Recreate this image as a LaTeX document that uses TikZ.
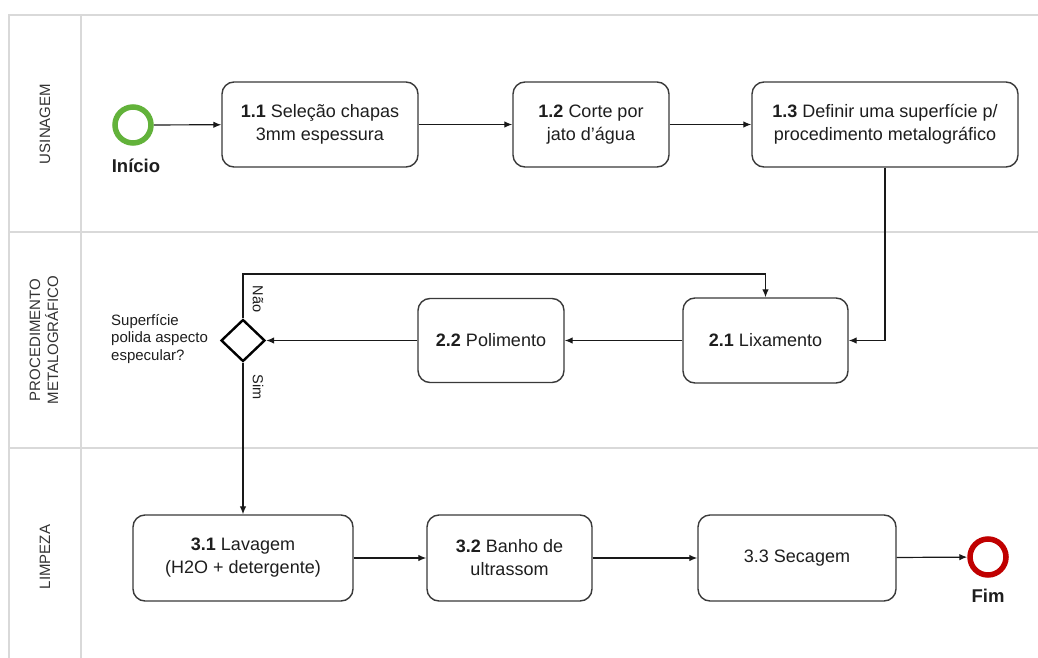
\documentclass[tikz,border=0pt]{standalone}
\usepackage{fontspec}
\setmainfont{Liberation Sans}
\usetikzlibrary{arrows.meta,shapes.geometric}
\definecolor{lanegray}{HTML}{D9D9D9}
\definecolor{startgreen}{HTML}{62B23A}
\definecolor{endred}{HTML}{C00000}
\definecolor{boxline}{HTML}{3A3A3A}
\definecolor{txt}{HTML}{1E1E1E}
\tikzset{
  task/.style={draw=boxline, line width=1.4pt, rounded corners=12pt, fill=white,
    align=center, text=txt, inner sep=2pt, font=\fontsize{18}{23}\selectfont},
  lane/.style={draw=lanegray, line width=2pt},
  lanelabel/.style={rotate=90, align=center, text=black!80, font=\fontsize{15}{18}\selectfont},
  flow/.style={draw=black!90, line width=1.2pt, -{Latex[length=8pt,width=6.5pt]}},
  event/.style={circle, minimum size=36pt, inner sep=0pt, line width=5.5pt, fill=white},
  evlabel/.style={font=\bfseries\fontsize{18.5}{20}\selectfont, text=txt},
  gateway/.style={diamond, draw=black, line width=2.4pt, minimum width=44pt, minimum height=42pt, inner sep=0pt, fill=white},
  guard/.style={rotate=-90, font=\fontsize{14.5}{16}\selectfont, text=txt, inner sep=0pt}
}
\begin{document}
\begin{tikzpicture}[x=1pt, y=-1pt]
  \useasboundingbox[fill=white] (0,0) rectangle (1038,658);

  % swimlane frame
  \draw[lane] (9,658) -- (9,15) -- (1038,15);
  \draw[lane] (81,15) -- (81,658);
  \draw[lane] (9,232) -- (1038,232);
  \draw[lane] (9,448) -- (1038,448);

  % lane titles
  \node[lanelabel] (l1) at (45,124) {USINAGEM};
  \node[lanelabel] (l2) at (44,340) {PROCEDIMENTO\\METALOGRÁFICO};
  \node[lanelabel] (l3) at (45,557) {LIMPEZA};

  % events
  \node[event, draw=startgreen] (start) at (133,125) {};
  \node[evlabel] (startlbl) at (136,166) {Início};
  \node[event, draw=endred] (end) at (988,557) {};
  \node[evlabel] (endlbl) at (988,596) {Fim};

  % tasks
  \node[task, minimum width=196pt, minimum height=85pt] (b11) at (320,124.5)
    {\textbf{1.1} Seleção chapas\\3mm espessura};
  \node[task, minimum width=156pt, minimum height=85pt] (b12) at (591,124.5)
    {\textbf{1.2} Corte por\\jato d’água};
  \node[task, minimum width=266pt, minimum height=85pt] (b13) at (885,124.5)
    {\textbf{1.3} Definir uma superfície p/\\procedimento metalográfico};
  \node[task, minimum width=165pt, minimum height=85pt] (b21) at (765.5,340.5)
    {\textbf{2.1} Lixamento};
  \node[task, minimum width=146pt, minimum height=84pt] (b22) at (491,340.5)
    {\textbf{2.2} Polimento};
  \node[task, minimum width=220pt, minimum height=86pt] (b31) at (243,558)
    {\textbf{3.1} Lavagem\\(H2O + detergente)};
  \node[task, minimum width=165pt, minimum height=86pt] (b32) at (509.5,558)
    {\textbf{3.2} Banho de\\ultrassom};
  \node[task, minimum width=198pt, minimum height=86pt] (b33) at (797,558)
    {3.3 Secagem};

  % gateway
  \node[gateway] (dec) at (243,340.5) {};
  \node[anchor=west, align=left, inner sep=0pt, text=txt,
        font=\fontsize{15}{17.5}\selectfont] (dectxt) at (111,339)
    {Superfície\\polida aspecto\\especular?};
  \node[guard] (nao) at (258,299) {Não};
  \node[guard] (sim) at (258,387) {Sim};
  \coordinate (loop) at (243,274);

  % sequence flows
  \draw[flow] (start) -- (b11);
  \draw[flow] (b11) -- (b12);
  \draw[flow] (b12) -- (b13);
  \draw[flow] (b13.south) |- (b21.east);
  \draw[flow] (b21) -- (b22);
  \draw[flow] (b22) -- (dec);
  \draw[flow] (dec.north) -- (loop) -| (b21.north);
  \draw[flow] (dec.south) -- (b31.north);
  \draw[flow] (b31) -- (b32);
  \draw[flow] (b32) -- (b33);
  \draw[flow] (b33) -- (end);
\end{tikzpicture}
\end{document}
